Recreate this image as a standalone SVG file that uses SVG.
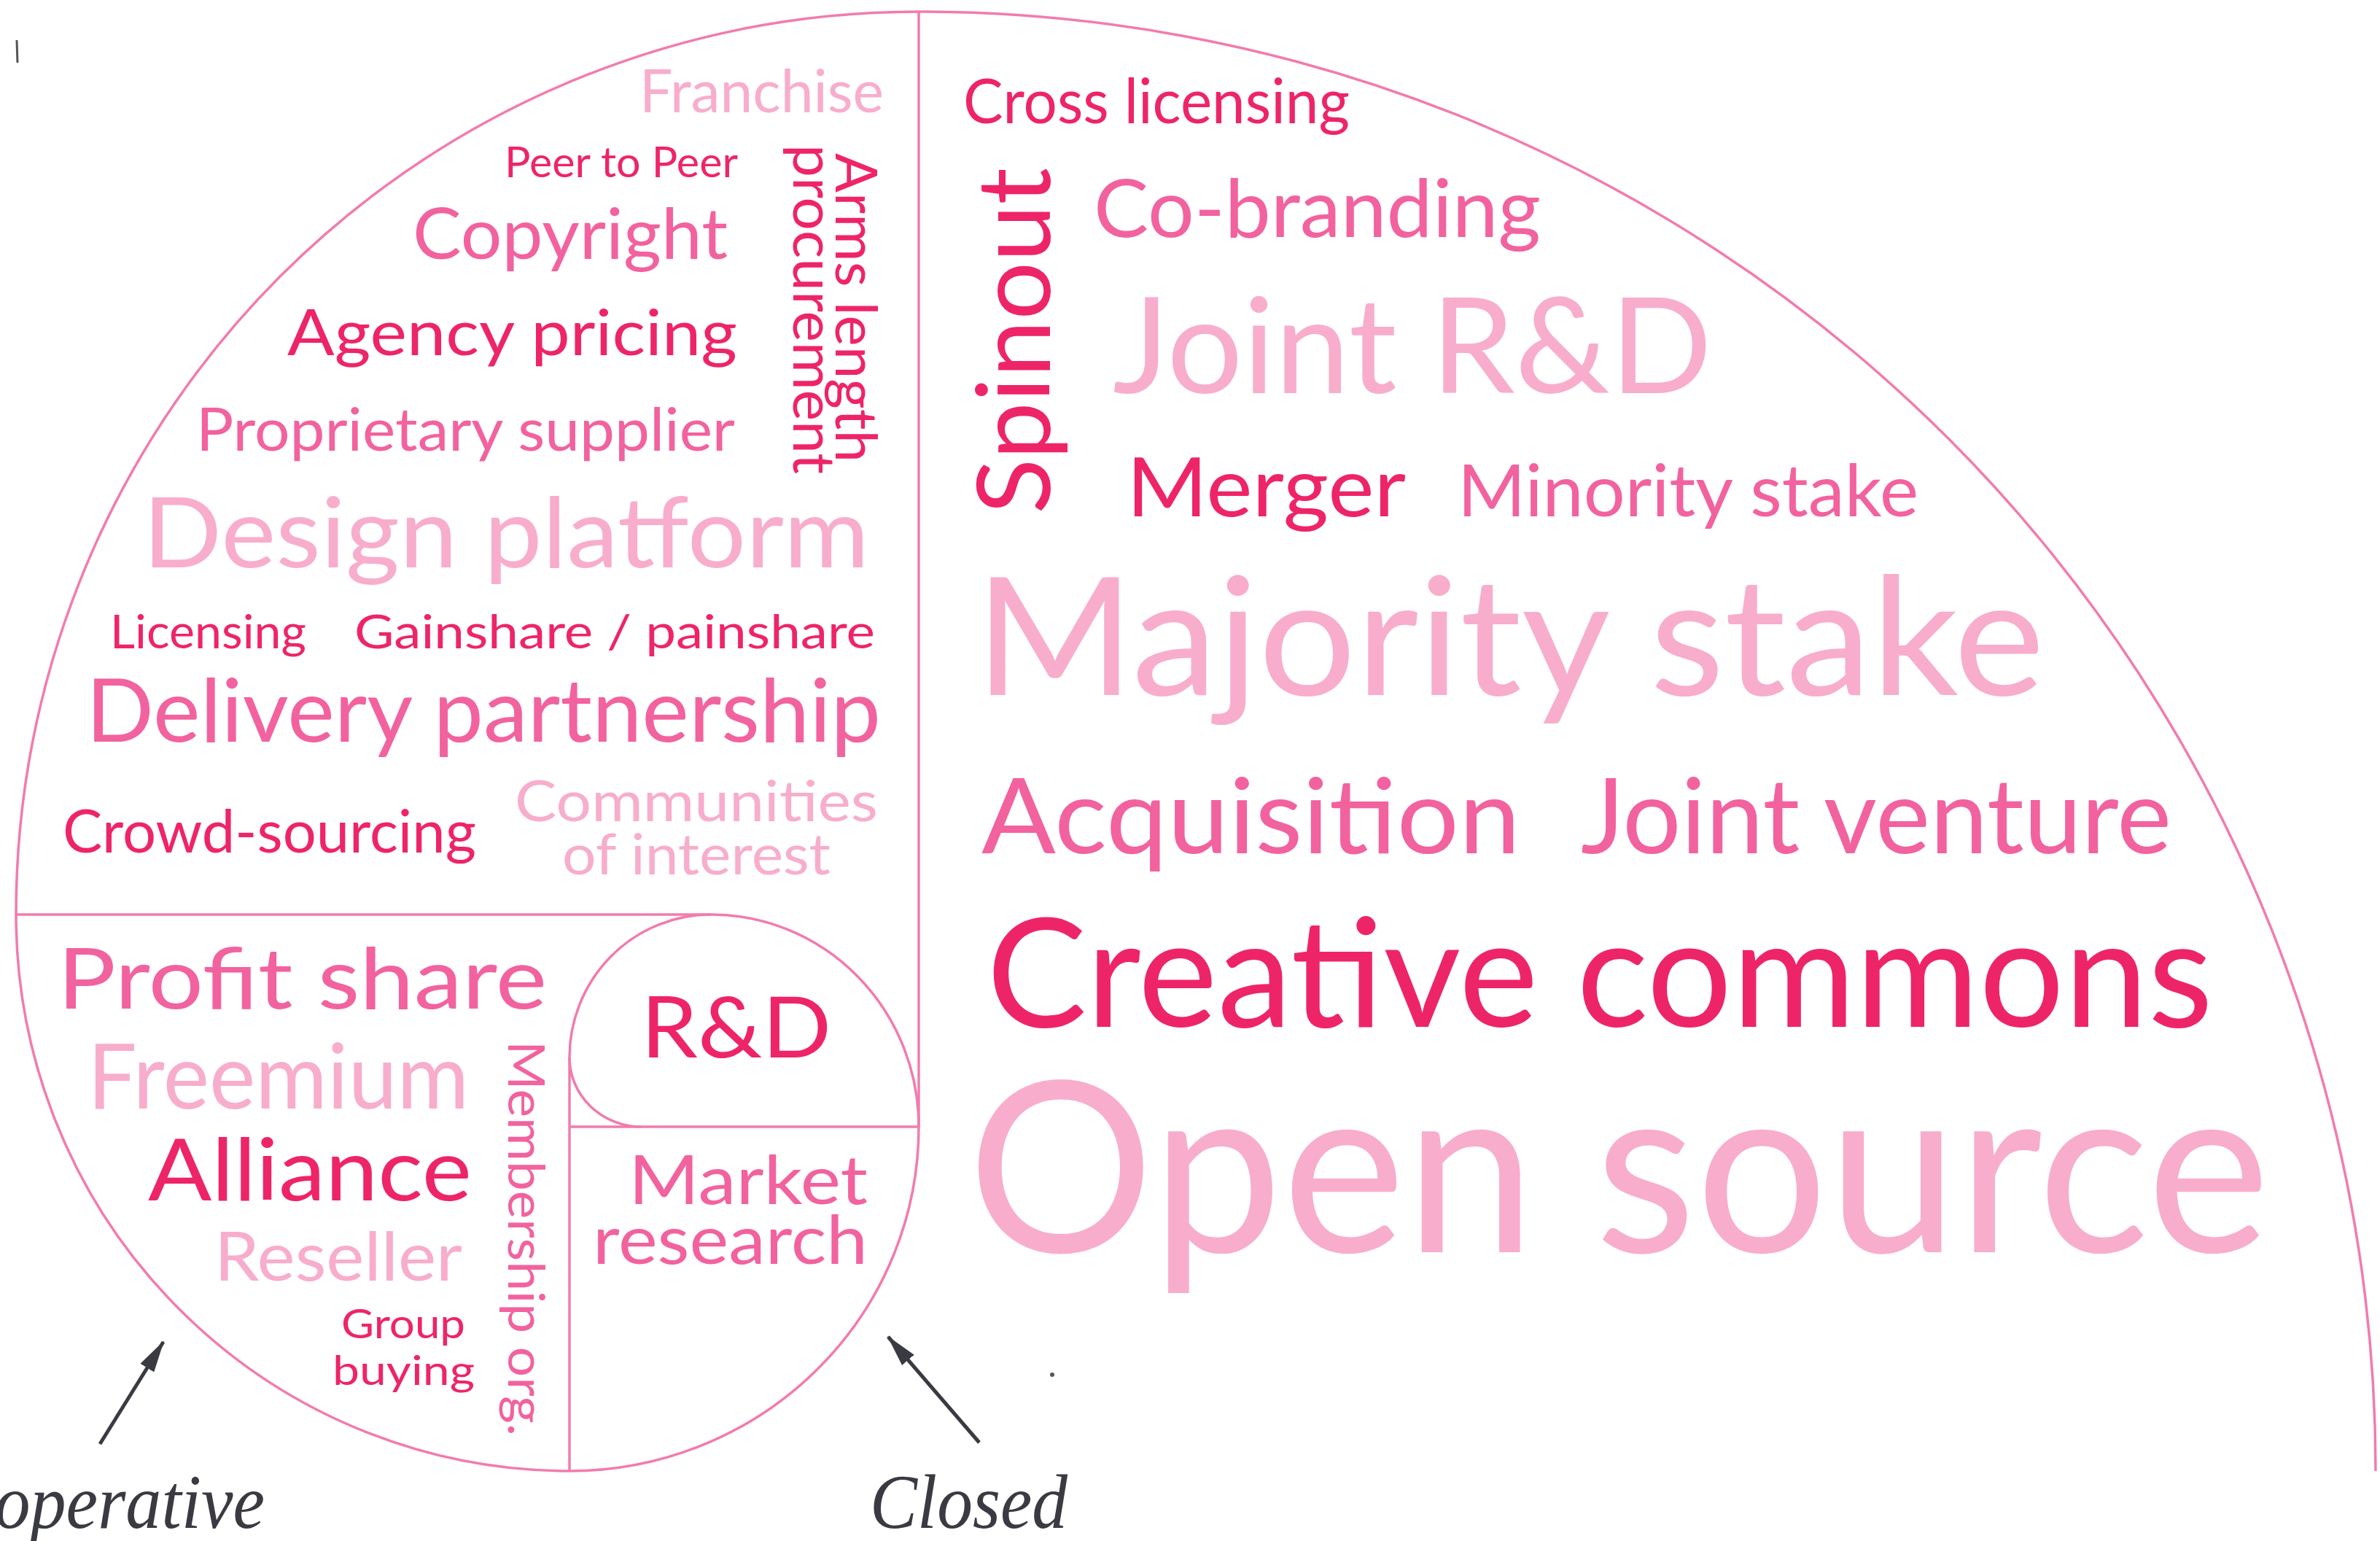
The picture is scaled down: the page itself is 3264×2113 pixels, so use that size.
<svg xmlns="http://www.w3.org/2000/svg" width="3264" height="2113" viewBox="0 0 3264 2113">
<style>
  .ln{fill:none;stroke:#F27BAE;stroke-width:3.5}
  text{font-family:Lato,"Open Sans","Liberation Sans",sans-serif}
  .d{fill:#EE2469}
  .m{fill:#F2629E}
  .l{fill:#F8ADCD}
  .lab{font-family:"Liberation Serif",serif;font-style:italic;fill:#3A3A42}
  .arr{stroke:#3A3A42;stroke-width:5;fill:none}
</style>
<defs>
  <marker id="ah" viewBox="0 0 44 28" refX="42" refY="14" markerWidth="44" markerHeight="28" markerUnits="userSpaceOnUse" orient="auto">
    <path d="M0,3 L44,14 L0,25 z" fill="#3A3A42"/>
  </marker>
</defs>
<rect width="3264" height="2113" fill="#fff"/>
<g id="spiral">
  <path class="ln" d="M1260 16 A1998 2001 0 0 1 3258 2017"/>
  <path class="ln" d="M1260 16 A1238 1238 0 0 0 22 1254 A759 763 0 0 0 781 2017 A479 472 0 0 0 1260 1545 A285 291 0 0 0 975 1254 A194 196 0 0 0 781 1450 A99 95 0 0 0 880 1545"/>
  <line class="ln" x1="1260" y1="16" x2="1260" y2="1545"/>
  <line class="ln" x1="22" y1="1254" x2="975" y2="1254"/>
  <line class="ln" x1="781" y1="1545" x2="1260" y2="1545"/>
  <line class="ln" x1="781" y1="1450" x2="781" y2="2017"/>
</g>
<g id="labels">
  <text id="t-franchise" class="l" x="877" y="154" font-size="81" textLength="335" lengthAdjust="spacingAndGlyphs">Franchise</text>
  <text id="t-peer" class="d" x="692" y="243" font-size="58" textLength="320" lengthAdjust="spacingAndGlyphs">Peer to Peer</text>
  <text id="t-copyright" class="m" x="566" y="355" font-size="96" textLength="432" lengthAdjust="spacingAndGlyphs">Copyright</text>
  <text id="t-agency" class="d" x="394" y="487" font-size="88" textLength="617" lengthAdjust="spacingAndGlyphs">Agency pricing</text>
  <text id="t-proprietary" class="m" x="269" y="618" font-size="81" textLength="739" lengthAdjust="spacingAndGlyphs">Proprietary supplier</text>
  <text id="t-arms" class="d" transform="translate(1146,210) rotate(90)" font-size="80" textLength="424" lengthAdjust="spacingAndGlyphs">Arms length</text>
  <text id="t-procurement" class="d" transform="translate(1088,198) rotate(90)" font-size="80" textLength="452" lengthAdjust="spacingAndGlyphs">procurement</text>
  <text id="t-design" class="l" x="196" y="778" font-size="133" textLength="996" lengthAdjust="spacingAndGlyphs">Design platform</text>
  <text id="t-licensing" class="d" x="151" y="889" font-size="64" textLength="269" lengthAdjust="spacingAndGlyphs">Licensing</text>
  <text id="t-gainshare" class="d" x="486" y="889" font-size="64" textLength="714" lengthAdjust="spacingAndGlyphs">Gainshare / painshare</text>
  <text id="t-delivery" class="m" x="118" y="1017" font-size="120" textLength="1090" lengthAdjust="spacingAndGlyphs">Delivery partnership</text>
  <text id="t-crowd" class="d" x="86" y="1169" font-size="81" textLength="567" lengthAdjust="spacingAndGlyphs">Crowd-sourcing</text>
  <g id="t-communities" class="l" font-size="77">
    <text x="706" y="1126" textLength="498" lengthAdjust="spacingAndGlyphs">Communities</text>
    <text x="771" y="1199" textLength="368" lengthAdjust="spacingAndGlyphs">of interest</text>
  </g>
  <text id="t-profit" class="m" x="79" y="1383" font-size="117" textLength="671" lengthAdjust="spacingAndGlyphs">Profit share</text>
  <text id="t-freemium" class="l" x="120" y="1520" font-size="124" textLength="523" lengthAdjust="spacingAndGlyphs">Freemium</text>
  <text id="t-alliance" class="d" x="203" y="1646" font-size="119" textLength="444" lengthAdjust="spacingAndGlyphs">Alliance</text>
  <text id="t-reseller" class="l" x="294" y="1756" font-size="94" textLength="340" lengthAdjust="spacingAndGlyphs">Reseller</text>
  <g id="t-group" class="d" font-size="57">
    <text x="468" y="1835" textLength="170" lengthAdjust="spacingAndGlyphs">Group</text>
    <text x="456" y="1899" textLength="195" lengthAdjust="spacingAndGlyphs">buying</text>
  </g>
  <text id="t-membership" class="m" transform="translate(697,1427) rotate(90)" font-size="69" textLength="542" lengthAdjust="spacingAndGlyphs">Membership org.</text>
  <text id="t-rd" class="d" x="879" y="1450" font-size="117" textLength="261" lengthAdjust="spacingAndGlyphs">R&amp;D</text>
  <g id="t-market" class="m" font-size="94">
    <text x="862" y="1651" textLength="328" lengthAdjust="spacingAndGlyphs">Market</text>
    <text x="813" y="1733" textLength="377" lengthAdjust="spacingAndGlyphs">research</text>
  </g>
  <text id="t-cross" class="d" x="1321" y="169" font-size="85" textLength="530" lengthAdjust="spacingAndGlyphs">Cross licensing</text>
  <text id="t-spinout" class="d" transform="translate(1440,705) rotate(-90)" font-size="140" textLength="475" lengthAdjust="spacingAndGlyphs">Spinout</text>
  <text id="t-cobranding" class="m" x="1500" y="325" font-size="110" textLength="613" lengthAdjust="spacingAndGlyphs">Co-branding</text>
  <text id="t-jointrd" class="l" x="1526" y="539" font-size="183" textLength="822" lengthAdjust="spacingAndGlyphs">Joint R&amp;D</text>
  <text id="t-merger" class="d" x="1545" y="708" font-size="112" textLength="383" lengthAdjust="spacingAndGlyphs">Merger</text>
  <text id="t-minority" class="m" x="1999" y="708" font-size="98" textLength="632" lengthAdjust="spacingAndGlyphs">Minority stake</text>
  <text id="t-majority" class="l" x="1337" y="953" font-size="226" textLength="1467" lengthAdjust="spacingAndGlyphs">Majority stake</text>
  <text id="t-acquisition" class="m" x="1346" y="1170" font-size="144" textLength="739" lengthAdjust="spacingAndGlyphs">Acquisition</text>
  <text id="t-jointventure" class="m" x="2168" y="1170" font-size="144" textLength="810" lengthAdjust="spacingAndGlyphs">Joint venture</text>
  <text id="t-creative" class="d" x="1353" y="1408" font-size="208" textLength="1682" lengthAdjust="spacingAndGlyphs">Creative commons</text>
  <text id="t-opensource" class="l" x="1327" y="1717" font-size="327" textLength="1786" lengthAdjust="spacingAndGlyphs">Open source</text>
  <text id="t-cooperative" class="lab" x="-122" y="2095" font-size="106" textLength="485" lengthAdjust="spacingAndGlyphs">Cooperative</text>
  <text id="t-closed" class="lab" x="1193" y="2095" font-size="106" textLength="271" lengthAdjust="spacingAndGlyphs">Closed</text>
</g>
<g id="connectors">
  <line class="arr" x1="137" y1="1980" x2="224" y2="1840" marker-end="url(#ah)"/>
  <line class="arr" x1="1343" y1="1978" x2="1218" y2="1833" marker-end="url(#ah)"/>
</g>
<g id="marks">
  <line x1="23" y1="55" x2="24" y2="86" stroke="#555" stroke-width="3"/>
  <circle cx="1443" cy="1885" r="3" fill="#555"/>
</g>
</svg>
